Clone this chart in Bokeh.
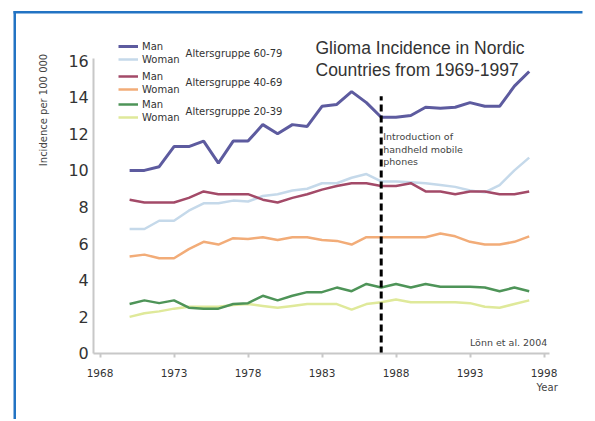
import math
from bokeh.plotting import figure
from bokeh.models import Range1d, FixedTicker, Label, Legend, LegendItem, BoxAnnotation
from bokeh.embed import file_html
from bokeh.resources import INLINE

years = list(range(1970, 1998))

man_60_79 = [10.0, 10.0, 10.2, 11.3, 11.3, 11.6, 10.4, 11.6, 11.6, 12.5, 12.0, 12.5, 12.4, 13.5,
             13.6, 14.3, 13.7, 12.9, 12.9, 13.0, 13.45, 13.4, 13.45, 13.7, 13.5, 13.5, 14.6, 15.4]
woman_60_79 = [6.8, 6.8, 7.25, 7.25, 7.8, 8.2, 8.2, 8.35, 8.3, 8.6, 8.7, 8.9, 9.0, 9.3,
               9.3, 9.6, 9.8, 9.4, 9.4, 9.35, 9.3, 9.2, 9.1, 8.9, 8.8, 9.2, 10.0, 10.7]
man_40_69 = [8.4, 8.25, 8.25, 8.25, 8.5, 8.85, 8.7, 8.7, 8.7, 8.4, 8.25, 8.5, 8.7, 8.95,
             9.15, 9.3, 9.3, 9.15, 9.15, 9.3, 8.85, 8.85, 8.7, 8.85, 8.85, 8.7, 8.7, 8.85]
woman_40_69 = [5.3, 5.4, 5.2, 5.2, 5.7, 6.1, 5.95, 6.3, 6.25, 6.35, 6.2, 6.35, 6.35, 6.2,
               6.15, 5.95, 6.35, 6.35, 6.35, 6.35, 6.35, 6.55, 6.4, 6.1, 5.95, 5.95, 6.1, 6.4]
man_20_39 = [2.7, 2.9, 2.75, 2.9, 2.5, 2.45, 2.45, 2.7, 2.75, 3.15, 2.9, 3.15, 3.35, 3.35,
             3.6, 3.4, 3.8, 3.6, 3.8, 3.6, 3.8, 3.65, 3.65, 3.65, 3.6, 3.4, 3.6, 3.4]
woman_20_39 = [2.0, 2.2, 2.3, 2.45, 2.55, 2.55, 2.55, 2.65, 2.7, 2.6, 2.5, 2.6, 2.7, 2.7,
               2.7, 2.4, 2.7, 2.8, 2.95, 2.8, 2.8, 2.8, 2.8, 2.75, 2.55, 2.5, 2.7, 2.9]

x_ticks = [1968, 1973, 1978, 1983, 1988, 1993, 1998]
y_ticks = [0, 2, 4, 6, 8, 10, 12, 14, 16]
phone_year = 1987
phone_line_top = 14.05
age_groups = ["Altersgruppe 60-79", "Altersgruppe 40-69", "Altersgruppe 20-39"]

TXT = "#333333"
FONT = "DejaVu Sans"
BLUE = "#2273c3"

X0, X1 = 1961.277, 2001.277
Y0, Y1 = -3.605, 19.279
AX_X0, AX_X1 = 1967.58, 1998.4

p = figure(width=592, height=419, output_backend="svg", toolbar_location=None,
           x_range=Range1d(X0, X1), y_range=Range1d(Y0, Y1),
           min_border_left=0, min_border_top=0, min_border_bottom=0, min_border_right=0)
p.outline_line_color = None
p.xgrid.visible = False
p.ygrid.visible = False
p.background_fill_color = "white"
p.border_fill_color = "white"

# blue page frame (top and left edges)
p.add_layout(BoxAnnotation(left=1962.155, right=2000.6, top=18.706, bottom=18.569,
                           fill_color=BLUE, fill_alpha=1, line_alpha=0, level="underlay"))
p.add_layout(BoxAnnotation(left=1962.155, right=1962.324, top=18.706, bottom=None,
                           fill_color=BLUE, fill_alpha=1, line_alpha=0, level="underlay"))

for ax in (p.xaxis, p.yaxis):
    ax.axis_line_color = "#c8c8c8"
    ax.axis_line_width = 2
    ax.minor_tick_line_color = None
    ax.major_label_text_color = TXT
    ax.major_label_text_font = FONT

p.xaxis.fixed_location = 0
p.xaxis.bounds = (AX_X0, AX_X1)
p.xaxis.ticker = FixedTicker(ticks=x_ticks)
p.xaxis.major_tick_in = 0
p.xaxis.major_tick_out = 4
p.xaxis.major_tick_line_color = "#c8c8c8"
p.xaxis.major_tick_line_width = 2
p.xaxis.major_label_text_font_size = "10.5px"
p.xaxis.major_label_standoff = 12

p.yaxis.fixed_location = AX_X0
p.yaxis.bounds = (0, 16.1)
p.yaxis.ticker = FixedTicker(ticks=y_ticks)
p.yaxis.major_tick_line_color = None
p.yaxis.major_tick_in = 0
p.yaxis.major_tick_out = 0
p.yaxis.major_label_text_font_size = "16px"
p.yaxis.major_label_standoff = 5

series = [
    ("Woman", woman_20_39, "#dfe99a", 2.5),
    ("Man", man_20_39, "#4e9458", 2.5),
    ("Woman", woman_40_69, "#f2ac78", 2.5),
    ("Woman", woman_60_79, "#c5d9ea", 2.5),
    ("Man", man_40_69, "#a34a68", 2.5),
    ("Man", man_60_79, "#5d5b9f", 3),
]
rend = {}
for i, (name, vals, col, w) in enumerate(series):
    rend[i] = p.line(years, vals, line_color=col, line_width=w)

p.segment(x0=[phone_year], y0=[0], x1=[phone_year], y1=[phone_line_top],
          line_color="black", line_width=3, line_dash="7 4")

groups = [(5, 3, 354), (4, 2, 324), (1, 0, 296)]
for a, b, ly in groups:
    items = [LegendItem(label=series[k][0], renderers=[rend[k]]) for k in (a, b)]
    p.add_layout(Legend(items=items, location=(118, ly), padding=0, margin=0, spacing=1,
                        label_height=12, glyph_height=12, glyph_width=20, label_standoff=4,
                        label_text_font=FONT, label_text_font_size="10px",
                        label_text_color=TXT, background_fill_alpha=0, border_line_alpha=0))

for txt, yv in zip(age_groups, [16.37, 14.78, 13.22]):
    p.add_layout(Label(x=1973.78, y=yv, text=txt, text_font=FONT, text_font_size="10px",
                       text_color=TXT, text_baseline="middle"))

for txt, yv in zip(["Glioma Incidence in Nordic", "Countries from 1969-1997"], [16.70, 15.49]):
    p.add_layout(Label(x=1982.56, y=yv, text=txt, text_font="Liberation Sans",
                       text_font_size="17.5px", text_color=TXT, text_baseline="middle"))

for txt, yv in zip(["Introduction of", "handheld mobile", "phones"], [11.85, 11.14, 10.49]):
    p.add_layout(Label(x=phone_year + 0.14, y=yv, text=txt, text_font=FONT,
                       text_font_size="9.5px", text_color="#444444", text_baseline="middle"))

p.add_layout(Label(x=1998.22, y=0.6, text="Lönn et al. 2004", text_font=FONT,
                   text_font_size="9.5px", text_color="#444444", text_align="right",
                   text_baseline="middle"))
p.add_layout(Label(x=1998.93, y=-1.87, text="Year", text_font=FONT,
                   text_font_size="10px", text_color="#444444", text_align="right",
                   text_baseline="middle"))
p.add_layout(Label(x=1964.18, y=13.30, text="Incidence per 100 000", text_font=FONT,
                   text_font_size="10px", text_color="#444444", text_align="center",
                   text_baseline="middle", angle=math.pi / 2))

open("out.html", "w").write(file_html(p, INLINE))
